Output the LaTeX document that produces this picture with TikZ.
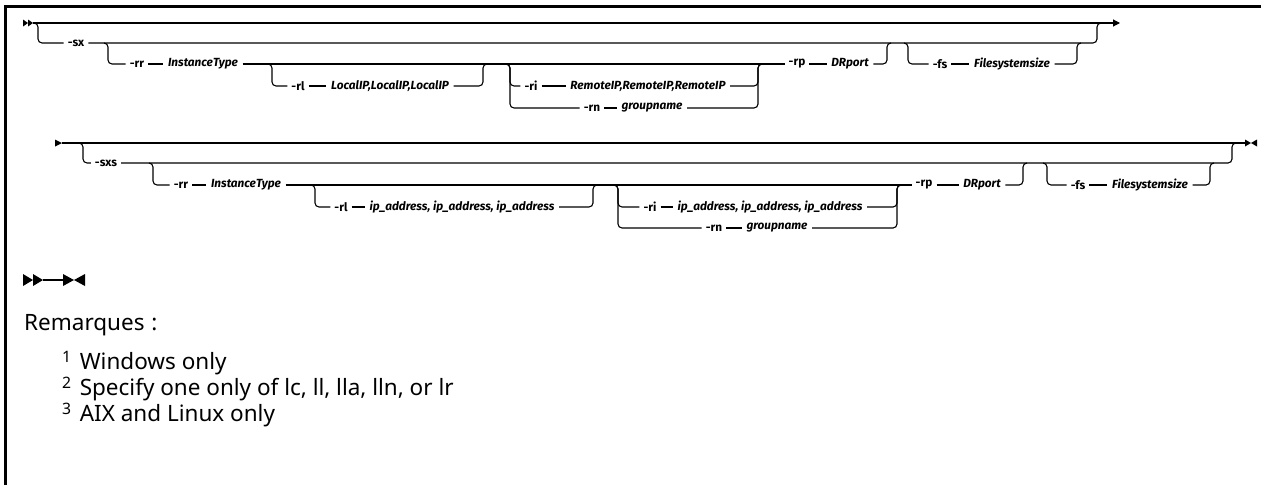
\documentclass[tikz,border=0pt]{standalone}
\usepackage{fontspec}
\setmainfont{Noto Sans}
\newfontfamily\railfont{Fira Sans}
\newfontfamily\notefont{Noto Sans}
\usetikzlibrary{arrows.meta}
\tikzset{
  rail/.style={line width=1.1pt, rounded corners=4pt},
  kw/.style={font=\railfont\bfseries\fontsize{11.8}{12}\selectfont, inner xsep=4pt, inner ysep=0pt},
  var/.style={font=\railfont\bfseries\itshape\fontsize{11.8}{12}\selectfont, inner xsep=4.5pt, inner ysep=0pt},
  note/.style={font=\notefont\fontsize{22.5}{24}\selectfont, anchor=west, inner sep=0pt},
  tri/.style={fill=black, draw=none}
}
\begin{document}
\begin{tikzpicture}[x=1pt,y=-1pt]
\useasboundingbox (0,0) rectangle (1261,485);
% frame
\draw[line width=3pt] (5,485) -- (5,6.5) -- (1261,6.5);

% ================= ROW 1 =================
\coordinate (a1s) at (33,23);
\coordinate (a1e) at (1120,23);
\fill[tri] (23,19.5) -- (28,23) -- (23,26.5) -- cycle;
\fill[tri] (28,19.5) -- (33,23) -- (28,26.5) -- cycle;
\draw[line width=1.1pt, -{Triangle[length=7pt,width=7pt]}] (a1s) -- (a1e);

\node[kw] (sx) at (76,43) {-sx};
\node[kw] (rr) at (137,64) {-rr};
\node[var] (itype) at (203,64) {InstanceType};
\node[kw] (rl) at (298,86) {-rl};
\node[var] (lip) at (390,86) {LocalIP,LocalIP,LocalIP};
\node[kw] (ri) at (531,86) {-ri};
\node[var] (rip) at (648,86) {RemoteIP,RemoteIP,RemoteIP};
\node[kw] (rn) at (592,108) {-rn};
\node[var] (gn) at (652,108) {groupname};
\node[kw] (rp) at (797,64) {-rp};
\node[var] (drp) at (850,64) {DRport};
\node[kw] (fs) at (940,64) {-fs};
\node[var] (fss) at (1012,64) {Filesystemsize};

% sx group
\draw[rail] (a1s) -| (38,43) -- (sx.west);
\draw[rail] (sx.east) -| (1097,23) -- (1101,23);
% rr group
\draw[rail] (104,43) -| (108,64) -- (rr.west);
\draw[rail] (rr.east) -- (itype.west);
\draw[rail] (itype.east) -- (rp.west);
\draw[rail] (rp.east) -- (drp.west);
\draw[rail] (drp.east) -| (887,43) -- (891,43);
% rl group
\draw[rail] (268,64) -| (272,86) -- (rl.west);
\draw[rail] (rl.east) -- (lip.west);
\draw[rail] (lip.east) -| (483,64) -- (487,64);
% ri / rn group
\draw[rail] (506,64) -| (510,86) -- (ri.west);
\draw[rail] (506,64) -| (510,108) -- (rn.west);
\draw[rail] (ri.east) -- (rip.west);
\draw[rail] (rn.east) -- (gn.west);
\draw[rail] (rip.east) -| (758,64) -- (762,64);
\draw[rail] (gn.east) -| (758,64) -- (762,64);
% fs group
\draw[rail] (904,43) -| (908,64) -- (fs.west);
\draw[rail] (fs.east) -- (fss.west);
\draw[rail] (fss.east) -| (1077,43) -- (1081,43);

% ================= ROW 2 =================
\coordinate (a2s) at (62,143);
\coordinate (a2e) at (1245,143);
\fill[tri] (55,139.5) -- (62,143) -- (55,146.5) -- cycle;
\draw[line width=1.1pt] (a2s) -- (a2e);
\fill[tri] (1245,139.5) -- (1251,143) -- (1245,146.5) -- cycle;
\fill[tri] (1257,139.5) -- (1251,143) -- (1257,146.5) -- cycle;

\node[kw] (sxs) at (106,163) {-sxs};
\node[kw] (rrb) at (181,185) {-rr};
\node[var] (itypeb) at (246,185) {InstanceType};
\node[kw] (rlb) at (341,207) {-rl};
\node[var] (ipa) at (462,207) {ip\_address, ip\_address, ip\_address};
\node[kw] (rib) at (650,207) {-ri};
\node[var] (ipb) at (770,207) {ip\_address, ip\_address, ip\_address};
\node[kw] (rnb) at (714,228) {-rn};
\node[var] (gnb) at (777,228) {groupname};
\node[kw] (rpb) at (924,185) {-rp};
\node[var] (drpb) at (982,185) {DRport};
\node[kw] (fsb) at (1078,185) {-fs};
\node[var] (fssb) at (1150,185) {Filesystemsize};

% sxs group
\draw[rail] (79,143) -| (83,163) -- (sxs.west);
\draw[rail] (sxs.east) -| (1232,143) -- (1236,143);
% rr group
\draw[rail] (149,163) -| (153,185) -- (rrb.west);
\draw[rail] (rrb.east) -- (itypeb.west);
\draw[rail] (itypeb.east) -- (rpb.west);
\draw[rail] (rpb.east) -- (drpb.west);
\draw[rail] (drpb.east) -| (1023,163) -- (1027,163);
% rl group
\draw[rail] (311,185) -| (315,207) -- (rlb.west);
\draw[rail] (rlb.east) -- (ipa.west);
\draw[rail] (ipa.east) -| (593,185) -- (597,185);
% ri / rn group
\draw[rail] (614,185) -| (618,207) -- (rib.west);
\draw[rail] (614,185) -| (618,228) -- (rnb.west);
\draw[rail] (rib.east) -- (ipb.west);
\draw[rail] (rnb.east) -- (gnb.west);
\draw[rail] (ipb.east) -| (897,185) -- (901,185);
\draw[rail] (gnb.east) -| (897,185) -- (901,185);
% fs group
\draw[rail] (1043,163) -| (1047,185) -- (fsb.west);
\draw[rail] (fsb.east) -- (fssb.west);
\draw[rail] (fssb.east) -| (1210,163) -- (1214,163);

% ================= end markers =================
\coordinate (b1) at (43,280);
\coordinate (b2) at (63,280);
\fill[tri] (23,274) -- (33,280) -- (23,286) -- cycle;
\fill[tri] (33,274) -- (43,280) -- (33,286) -- cycle;
\draw[line width=1.1pt] (b1) -- (b2);
\fill[tri] (63,274) -- (74,280) -- (63,286) -- cycle;
\fill[tri] (85,274) -- (74,280) -- (85,286) -- cycle;

% ================= notes =================
\node[note] (rem) at (24,325) {Remarques\hspace{0.3em}:};
\node[note] (n1) at (62,363) {\textsuperscript{1}\hspace{0.1em} Windows only};
\node[note] (n2) at (62,389) {\textsuperscript{2}\hspace{0.1em} Specify one only of lc, ll, lla, lln, or lr};
\node[note] (n3) at (62,415) {\textsuperscript{3}\hspace{0.1em} AIX and Linux only};
\end{tikzpicture}
\end{document}
